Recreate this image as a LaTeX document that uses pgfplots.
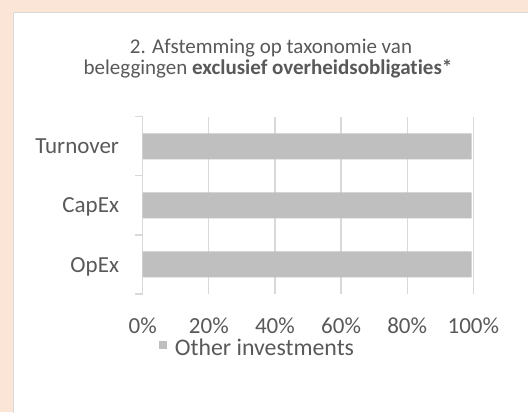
\documentclass[border=0pt]{standalone}
\usepackage{pgfplots}
\pgfplotsset{compat=1.18}
\usepackage{fontspec}
\setmainfont{Carlito}[Ligatures={NoCommon}]
\definecolor{peach}{HTML}{FBE5D6}
\definecolor{panelborder}{HTML}{D9D9D9}
\definecolor{gridc}{HTML}{D9D9D9}
\definecolor{barc}{HTML}{BFBFBF}
\definecolor{txt}{HTML}{595959}
\begin{document}
\begin{tikzpicture}[x=1bp,y=1bp]
\useasboundingbox (0,0) rectangle (528,412);
\fill[peach] (0,0) rectangle (528,412);
\draw[panelborder, line width=1bp, fill=white] (13.5,-5) rectangle (540,399.5);
\node[anchor=base, text=txt, font=\fontsize{21bp}{21bp}\selectfont, inner sep=0pt] at (271,412-53.3) {2. Afstemming op taxonomie van};
\node[anchor=base, text=txt, font=\fontsize{21bp}{21bp}\selectfont, inner sep=0pt] at (268,412-74) {beleggingen \textbf{exclusief overheidsobligaties*}};
\begin{axis}[
  at={(142.7bp,118bp)}, anchor=south west,
  scale only axis, width=330.6bp, height=177.3bp,
  xmin=0, xmax=100, ymin=-0.5, ymax=2.5,
  xbar, bar width=26bp,
  axis x line*=bottom, axis y line*=left,
  x axis line style={draw=none},
  y axis line style={draw=gridc, line width=1.3bp},
  xtick={0,20,40,60,80,100},
  xticklabels={0\%,20\%,40\%,60\%,80\%,100\%},
  ytick={0,1,2},
  yticklabels={OpEx,CapEx,Turnover},
  minor ytick={-0.5,0.5,1.5,2.5},
  major tick length=0pt,
  minor tick length=7.7bp,
  tick align=outside,
  minor tick style={draw=gridc, line width=1.3bp},
  xtick style={draw=none},
  xmajorgrids,
  grid style={draw=gridc, line width=1.3bp},
  tick label style={text=txt, font=\fontsize{23bp}{23bp}\selectfont},
  xticklabel style={anchor=base, inner sep=0pt, yshift=-39.3bp},
  yticklabel style={anchor=base east, inner sep=0pt, xshift=-23.5bp, yshift=-7.6bp},
  legend style={at={(0.0502,-0.302)}, anchor=west, draw=none, fill=none,
    inner sep=0pt, text=txt, font=\fontsize{23.8bp}{23.8bp}\selectfont,
    /tikz/every even column/.append style={column sep=0pt}},
  legend image code/.code={\fill[barc] (0bp,-1.8bp) rectangle (7.4bp,6.8bp);},
  legend cell align=left,
]
\addplot[fill=barc, draw=none] coordinates {(99.5,0) (99.5,1) (99.5,2)};
\addlegendentry{\hspace{6bp}Other investments}
\end{axis}
\end{tikzpicture}
\end{document}
